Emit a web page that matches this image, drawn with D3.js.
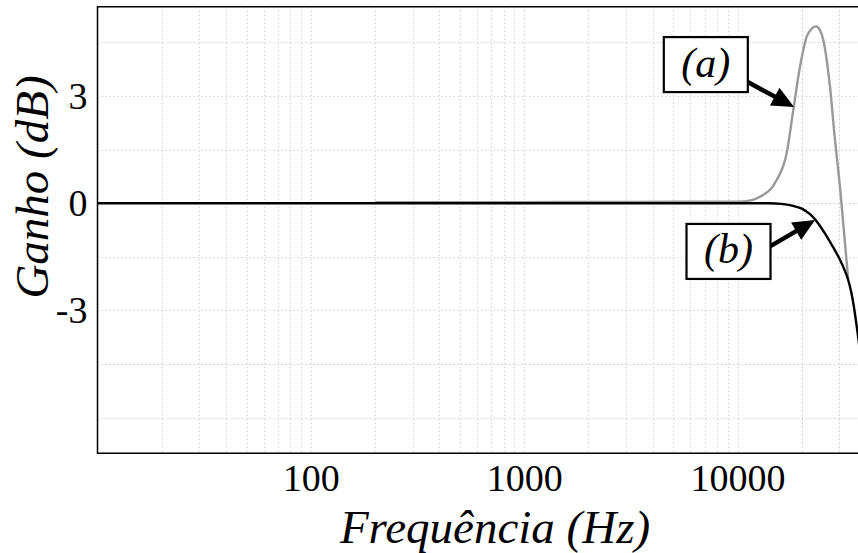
<!DOCTYPE html>
<html>
<head>
<meta charset="utf-8">
<script src="https://cdn.jsdelivr.net/npm/d3@7"></script>
<style>
  html, body { margin: 0; padding: 0; background: #fff; }
  svg { display: block; }
</style>
</head>
<body>
<svg id="chart" width="858" height="553"></svg>
<script>
// Frequency response: gain (dB) vs frequency (Hz), log axis
const freqA = [200, 1000, 5000, 9000, 10640, 12740, 15260, 16990, 18250, 19620, 21090, 22200, 23320, 24300, 25220, 27120, 28620, 30210, 33040];
const gainA = [0.03, 0.03, 0.04, 0.04, 0.05, 0.18, 0.65, 1.40, 2.61, 3.82, 4.66, 4.88, 4.95, 4.85, 4.57, 3.26, 1.77, 0.46, -2.16];

const freqB = [10, 100, 1000, 10000, 14000, 16000, 18000, 20000, 22000, 24000, 26000, 28000, 30000, 32000, 33000, 34000, 35000, 36000, 38000, 40000];
const gainB = [0, 0, 0, 0, 0, -0.02, -0.07, -0.15, -0.32, -0.58, -0.9, -1.22, -1.55, -1.92, -2.15, -2.45, -2.85, -3.35, -4.45, -5.7];

const xTicks = [100, 1000, 10000];
const yTicks = [-3, 0, 3];
const yGrid = [-6, -4.5, -3, -1.5, 0, 1.5, 3, 4.5];

// Callout labels: box centre and arrow tail/tip in data units
const noteLabels = ["(a)", "(b)"];
const noteBoxFreq = [7100, 9070];
const noteBoxGain = [3.88, -1.35];
const noteTailGain = [3.39, -1.2];
const noteTipFreq = [18400, 23100];
const noteTipGain = [2.69, -0.47];

const svg = d3.select("#chart");
const W = 858, H = 553;
const plot = { left: 97.5, right: 866, top: 6.7, bottom: 453.3 };

const x = d3.scaleLog().domain([10, 40000]).range([plot.left, plot.right]);
const y = d3.scaleLinear().domain([-7, 5.5]).range([plot.bottom, plot.top]);

svg.append("rect").attr("width", W).attr("height", H).attr("fill", "#fff");

svg.append("defs").append("clipPath").attr("id", "plotclip")
  .append("rect")
  .attr("x", plot.left).attr("y", plot.top)
  .attr("width", plot.right - plot.left).attr("height", plot.bottom - plot.top);

// Grid
const xGrid = [];
for (let p = 10; p <= 10000; p *= 10) {
  for (let m = 1; m <= 9; m++) {
    const v = p * m;
    if (v > 10 && v <= 40000) xGrid.push(v);
  }
}
xGrid.push(20000, 30000, 40000);

const grid = svg.append("g").attr("clip-path", "url(#plotclip)")
  .attr("stroke", "#d0d0d0").attr("stroke-width", 1)
  .attr("stroke-dasharray", "1.5,2.5").attr("fill", "none");

grid.selectAll("line.vx").data(xGrid).join("line")
  .attr("class", "vx")
  .attr("x1", d => Math.round(x(d)) + 0.5).attr("x2", d => Math.round(x(d)) + 0.5)
  .attr("y1", plot.top).attr("y2", plot.bottom);

grid.selectAll("line.hy").data(yGrid).join("line")
  .attr("class", "hy")
  .attr("y1", d => Math.round(y(d)) + 0.5).attr("y2", d => Math.round(y(d)) + 0.5)
  .attr("x1", plot.left).attr("x2", plot.right);

// Curves
const seriesA = freqA.map((f, i) => [f, gainA[i]]);
const seriesB = freqB.map((f, i) => [f, gainB[i]]);

const line = d3.line().x(d => x(d[0])).y(d => y(d[1])).curve(d3.curveMonotoneX);

const curves = svg.append("g").attr("clip-path", "url(#plotclip)");
curves.append("path").datum(seriesA)
  .attr("d", line).attr("fill", "none")
  .attr("stroke", "#999999").attr("stroke-width", 2.4);
curves.append("path").datum(seriesB)
  .attr("d", line).attr("fill", "none")
  .attr("stroke", "#000").attr("stroke-width", 2.4);

// Frame (top, left, bottom)
svg.append("path")
  .attr("d", `M${W},${plot.top}H${plot.left}V${plot.bottom}H${W}`)
  .attr("fill", "none").attr("stroke", "#000").attr("stroke-width", 1.5);

// Axes
const numFont = "'Liberation Serif', 'Times New Roman', serif";

const xAxis = svg.append("g")
  .attr("transform", `translate(0,${plot.bottom})`)
  .call(d3.axisBottom(x).tickValues(xTicks).tickFormat(d => String(d)).tickSize(0).tickPadding(11));
xAxis.select(".domain").remove();
xAxis.selectAll("text").attr("font-family", numFont).attr("font-size", 38).attr("fill", "#000");

const yAxis = svg.append("g")
  .attr("transform", `translate(${plot.left},0)`)
  .call(d3.axisLeft(y).tickValues(yTicks).tickFormat(d => String(d)).tickSize(0).tickPadding(10));
yAxis.select(".domain").remove();
yAxis.selectAll("text").attr("font-family", numFont).attr("font-size", 38).attr("fill", "#000");

// Axis titles
svg.append("text")
  .attr("x", 495).attr("y", 543)
  .attr("text-anchor", "middle")
  .attr("font-family", numFont).attr("font-style", "italic").attr("font-size", 47)
  .text("Frequência (Hz)");

svg.append("text")
  .attr("transform", "translate(48,187) rotate(-90)")
  .attr("text-anchor", "middle")
  .attr("font-family", numFont).attr("font-style", "italic").attr("font-size", 47)
  .text("Ganho (dB)");

// Callouts
const boxW = 84, boxH = 55;
const notes = noteLabels.map((t, i) => ({
  label: t,
  cx: x(noteBoxFreq[i]), cy: y(noteBoxGain[i]),
  ty: y(noteTailGain[i]),
  tipX: x(noteTipFreq[i]), tipY: y(noteTipGain[i])
}));

const ng = svg.append("g");
notes.forEach(n => {
  const x0 = n.cx + boxW / 2, y0 = n.ty;
  const ang = Math.atan2(n.tipY - y0, n.tipX - x0);
  const headLen = 22, headHalf = 10;
  const bx = n.tipX - headLen * Math.cos(ang), by = n.tipY - headLen * Math.sin(ang);
  ng.append("line")
    .attr("x1", x0).attr("y1", y0).attr("x2", bx + 2 * Math.cos(ang)).attr("y2", by + 2 * Math.sin(ang))
    .attr("stroke", "#000").attr("stroke-width", 4.5);
  const px = -Math.sin(ang), py = Math.cos(ang);
  ng.append("path")
    .attr("d", `M${n.tipX},${n.tipY}L${bx + headHalf * px},${by + headHalf * py}L${bx - headHalf * px},${by - headHalf * py}Z`)
    .attr("fill", "#000");
  ng.append("rect")
    .attr("x", n.cx - boxW / 2).attr("y", n.cy - boxH / 2)
    .attr("width", boxW).attr("height", boxH)
    .attr("fill", "#fff").attr("stroke", "#000").attr("stroke-width", 2.2);
  ng.append("text")
    .attr("x", n.cx).attr("y", n.cy + 12)
    .attr("text-anchor", "middle")
    .attr("font-family", numFont).attr("font-style", "italic").attr("font-size", 42)
    .text(n.label);
});
</script>
</body>
</html>
